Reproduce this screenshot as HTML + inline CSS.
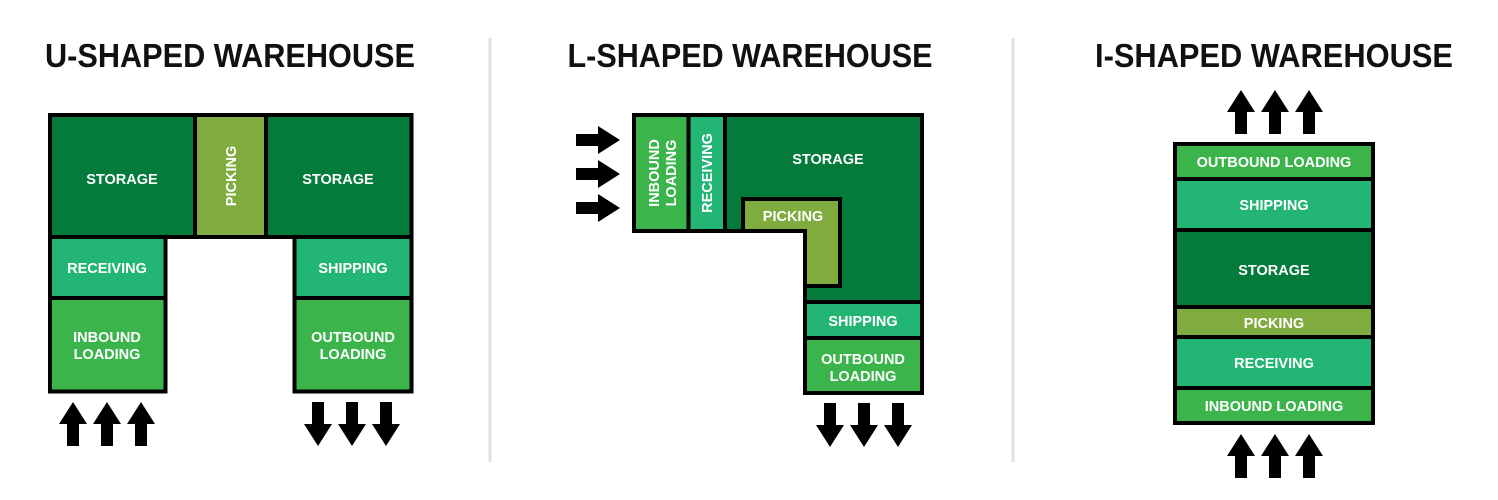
<!DOCTYPE html>
<html><head><meta charset="utf-8"><style>
html,body{margin:0;padding:0;background:#fff;}
svg{display:block;}
text{font-family:"Liberation Sans",Arial,sans-serif;font-weight:bold;}
.l{fill:#fff;font-size:14.5px;text-anchor:middle;}
.t{fill:#111;font-size:33px;text-anchor:middle;}
rect,polygon.z{stroke:#000;stroke-width:4;}
.s{fill:#047a3b}.p{fill:#80ab3e}.r{fill:#22b573}.i{fill:#3bb54b}
</style></head><body>
<svg width="1498" height="500" viewBox="0 0 1498 500">
<defs>
<polygon id="up" points="0,-22 14,0 6,0 6,22 -6,22 -6,0 -14,0" fill="#000"/>
</defs>
<line x1="490" y1="38" x2="490" y2="462" stroke="#e0e0e0" stroke-width="3"/>
<line x1="1013" y1="38" x2="1013" y2="462" stroke="#e0e0e0" stroke-width="3"/>

<text class="t" x="230" y="67" textLength="370" lengthAdjust="spacingAndGlyphs">U-SHAPED WAREHOUSE</text>
<text class="t" x="750" y="67" textLength="365" lengthAdjust="spacingAndGlyphs">L-SHAPED WAREHOUSE</text>
<text class="t" x="1274" y="67" textLength="358" lengthAdjust="spacingAndGlyphs">I-SHAPED WAREHOUSE</text>

<!-- U -->
<rect class="s" x="50" y="115" width="145" height="122"/>
<rect class="p" x="195" y="115" width="71" height="122"/>
<rect class="s" x="266" y="115" width="145.5" height="122"/>
<rect class="r" x="50" y="237" width="115.5" height="61"/>
<rect class="i" x="50" y="298" width="115.5" height="93.5"/>
<rect class="r" x="294.5" y="237" width="117" height="61"/>
<rect class="i" x="294.5" y="298" width="117" height="93.5"/>
<text class="l" x="122" y="184">STORAGE</text>
<text class="l" x="338" y="184">STORAGE</text>
<text class="l" transform="translate(236,176) rotate(-90)">PICKING</text>
<text class="l" x="107" y="273">RECEIVING</text>
<text class="l" x="353" y="273">SHIPPING</text>
<text class="l" x="107" y="342">INBOUND</text>
<text class="l" x="107" y="359">LOADING</text>
<text class="l" x="353" y="342">OUTBOUND</text>
<text class="l" x="353" y="359">LOADING</text>
<use href="#up" x="73" y="424"/><use href="#up" x="107" y="424"/><use href="#up" x="141" y="424"/>
<use href="#up" transform="translate(318,424) rotate(180)"/><use href="#up" transform="translate(352,424) rotate(180)"/><use href="#up" transform="translate(386,424) rotate(180)"/>

<!-- L -->
<polygon class="z s" points="725,115 922,115 922,302 805,302 805,231 725,231"/>
<rect class="i" x="634" y="115" width="54.5" height="116"/>
<rect class="r" x="688.5" y="115" width="36.5" height="116"/>
<polygon class="z p" points="743,199 840,199 840,286 805,286 805,231 743,231"/>
<rect class="r" x="805" y="302" width="117" height="36"/>
<rect class="i" x="805" y="338" width="117" height="55"/>
<text class="l" x="828" y="164">STORAGE</text>
<text class="l" x="793" y="221">PICKING</text>
<text class="l" transform="translate(659,173) rotate(-90)">INBOUND</text>
<text class="l" transform="translate(676,173) rotate(-90)">LOADING</text>
<text class="l" transform="translate(712,173) rotate(-90)">RECEIVING</text>
<text class="l" x="863" y="326">SHIPPING</text>
<text class="l" x="863" y="364">OUTBOUND</text>
<text class="l" x="863" y="381">LOADING</text>
<use href="#up" transform="translate(598,140) rotate(90)"/><use href="#up" transform="translate(598,174) rotate(90)"/><use href="#up" transform="translate(598,208) rotate(90)"/>
<use href="#up" transform="translate(830,425) rotate(180)"/><use href="#up" transform="translate(864,425) rotate(180)"/><use href="#up" transform="translate(898,425) rotate(180)"/>

<!-- I -->
<rect class="i" x="1175" y="144" width="198" height="35"/>
<rect class="r" x="1175" y="179" width="198" height="51"/>
<rect class="s" x="1175" y="230" width="198" height="77"/>
<rect class="p" x="1175" y="307" width="198" height="30"/>
<rect class="r" x="1175" y="337" width="198" height="51"/>
<rect class="i" x="1175" y="388" width="198" height="35"/>
<text class="l" x="1274" y="167">OUTBOUND LOADING</text>
<text class="l" x="1274" y="210">SHIPPING</text>
<text class="l" x="1274" y="275">STORAGE</text>
<text class="l" x="1274" y="328">PICKING</text>
<text class="l" x="1274" y="368">RECEIVING</text>
<text class="l" x="1274" y="411">INBOUND LOADING</text>
<use href="#up" x="1241" y="112"/><use href="#up" x="1275" y="112"/><use href="#up" x="1309" y="112"/>
<use href="#up" x="1241" y="456"/><use href="#up" x="1275" y="456"/><use href="#up" x="1309" y="456"/>
</svg>
</body></html>
